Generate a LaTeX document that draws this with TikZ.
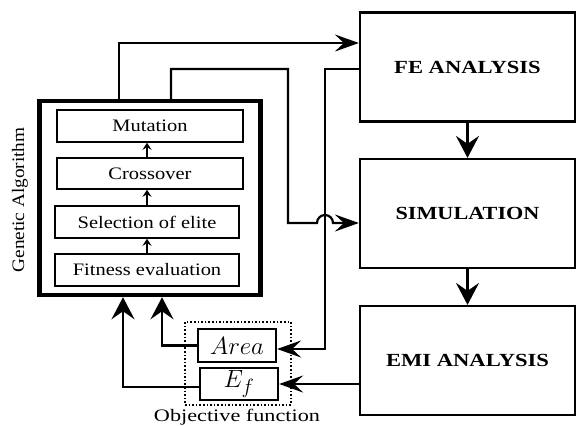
\documentclass[tikz,border=0pt]{standalone}
\usepackage{fontspec}
\setmainfont{Liberation Serif}
\usepackage{graphicx}
\usetikzlibrary{arrows.meta,calc}
\newcommand{\sx}[2]{\scalebox{#1}[1]{#2}}
\begin{document}
\begin{tikzpicture}[x=1pt,y=-1pt,
  ga/.style={draw,line width=4.5pt,minimum width=221pt,minimum height=194pt,inner sep=0pt},
  inbox/.style={draw,line width=1.5pt,minimum height=32pt,inner sep=0pt,font=\fontsize{17.5}{20}\selectfont},
  bigbox/.style={draw,line width=2.2pt,minimum width=215pt,minimum height=109pt,inner sep=0pt,font=\fontsize{18.5}{21}\selectfont\bfseries},
  objbox/.style={draw,line width=2.2pt,minimum width=78pt,minimum height=32pt,inner sep=0pt,font=\fontsize{30}{32}\selectfont},
  dotbox/.style={draw,dotted,line width=1.6pt,minimum width=106pt,minimum height=83pt,inner sep=0pt},
  lbl/.style={inner sep=0pt,font=\fontsize{17.5}{20}\selectfont},
  bigh/.style={line width=2.2pt,-{Stealth[length=24pt,width=17pt,inset=9pt]}},
  bigv/.style={line width=2.2pt,-{Stealth[length=22pt,width=23pt,inset=8pt]}},
  small/.style={line width=1.6pt,-{Stealth[length=7pt,width=9pt,inset=2.5pt]}}]
\useasboundingbox (0,0) rectangle (577,425);
% Genetic algorithm block
\node[ga] (GA) at (150,198) {};
\node[inbox,minimum width=186pt] (mut) at (150,126) {\sx{1.17}{Mutation}};
\node[inbox,minimum width=186pt,minimum height=31pt] (cro) at (150,173.5) {\sx{1.17}{Crossover}};
\node[inbox,minimum width=184pt] (sel) at (147,222) {\sx{1.17}{Selection of elite}};
\node[inbox,minimum width=184pt] (fit) at (147,270) {\sx{1.17}{Fitness evaluation}};
\draw[small] (fit.north) -- (fit.north |- sel.south);
\draw[small] (sel.north) -- (sel.north |- cro.south);
\draw[small] (cro.north -| fit.north) -- (mut.south -| fit.north);
\node[lbl,rotate=90] (gal) at (20,200) {\sx{1.1}{Genetic Algorithm}};
% right blocks
\node[bigbox] (FE) at (467.5,67) {\sx{1.22}{FE ANALYSIS}};
\node[bigbox] (SIM) at (467.5,213.5) {\sx{1.2}{SIMULATION}};
\node[bigbox] (EMI) at (467.5,360.5) {\sx{1.22}{EMI ANALYSIS}};
% objective function
\node[dotbox] (obj) at (238,363.5) {};
\node[objbox,minimum height=33pt] (Area) at (237,345.5) {$Area$};
\node[objbox] (Ef) at (239,384) {$E_f$};
\node[lbl,anchor=base] (objl) at (237,421) {\sx{1.27}{Objective function}};
% connectors
\coordinate (p1) at (119,43);
\coordinate (p2) at (171,69);
\coordinate (p3) at (288,223);
\coordinate (p4) at (325,69);
\coordinate (p5) at (325,349);
\coordinate (p6) at (162,0);
\coordinate (p7) at (123,0);
\draw[bigh] (GA.north -| p1) -- (p1) -- (FE.west |- p1);
\draw[bigh] (GA.north -| p2) -- (p2) -| (p3) -- ++(29,0) arc (180:360:8) -- (SIM.west |- p3);
\draw[bigh] (FE.west |- p4) -| (p5) -- (Area.east |- p5);
\draw[bigh] (EMI.west |- Ef.east) -- (Ef.east);
\draw[bigv] (Area.west) -| (GA.south -| p6);
\draw[bigv] (Ef.west) ++(0,3) -| (GA.south -| p7);
\draw[bigv] (FE.south) -- (SIM.north);
\draw[bigv] (SIM.south) -- (EMI.north);
\end{tikzpicture}
\end{document}
